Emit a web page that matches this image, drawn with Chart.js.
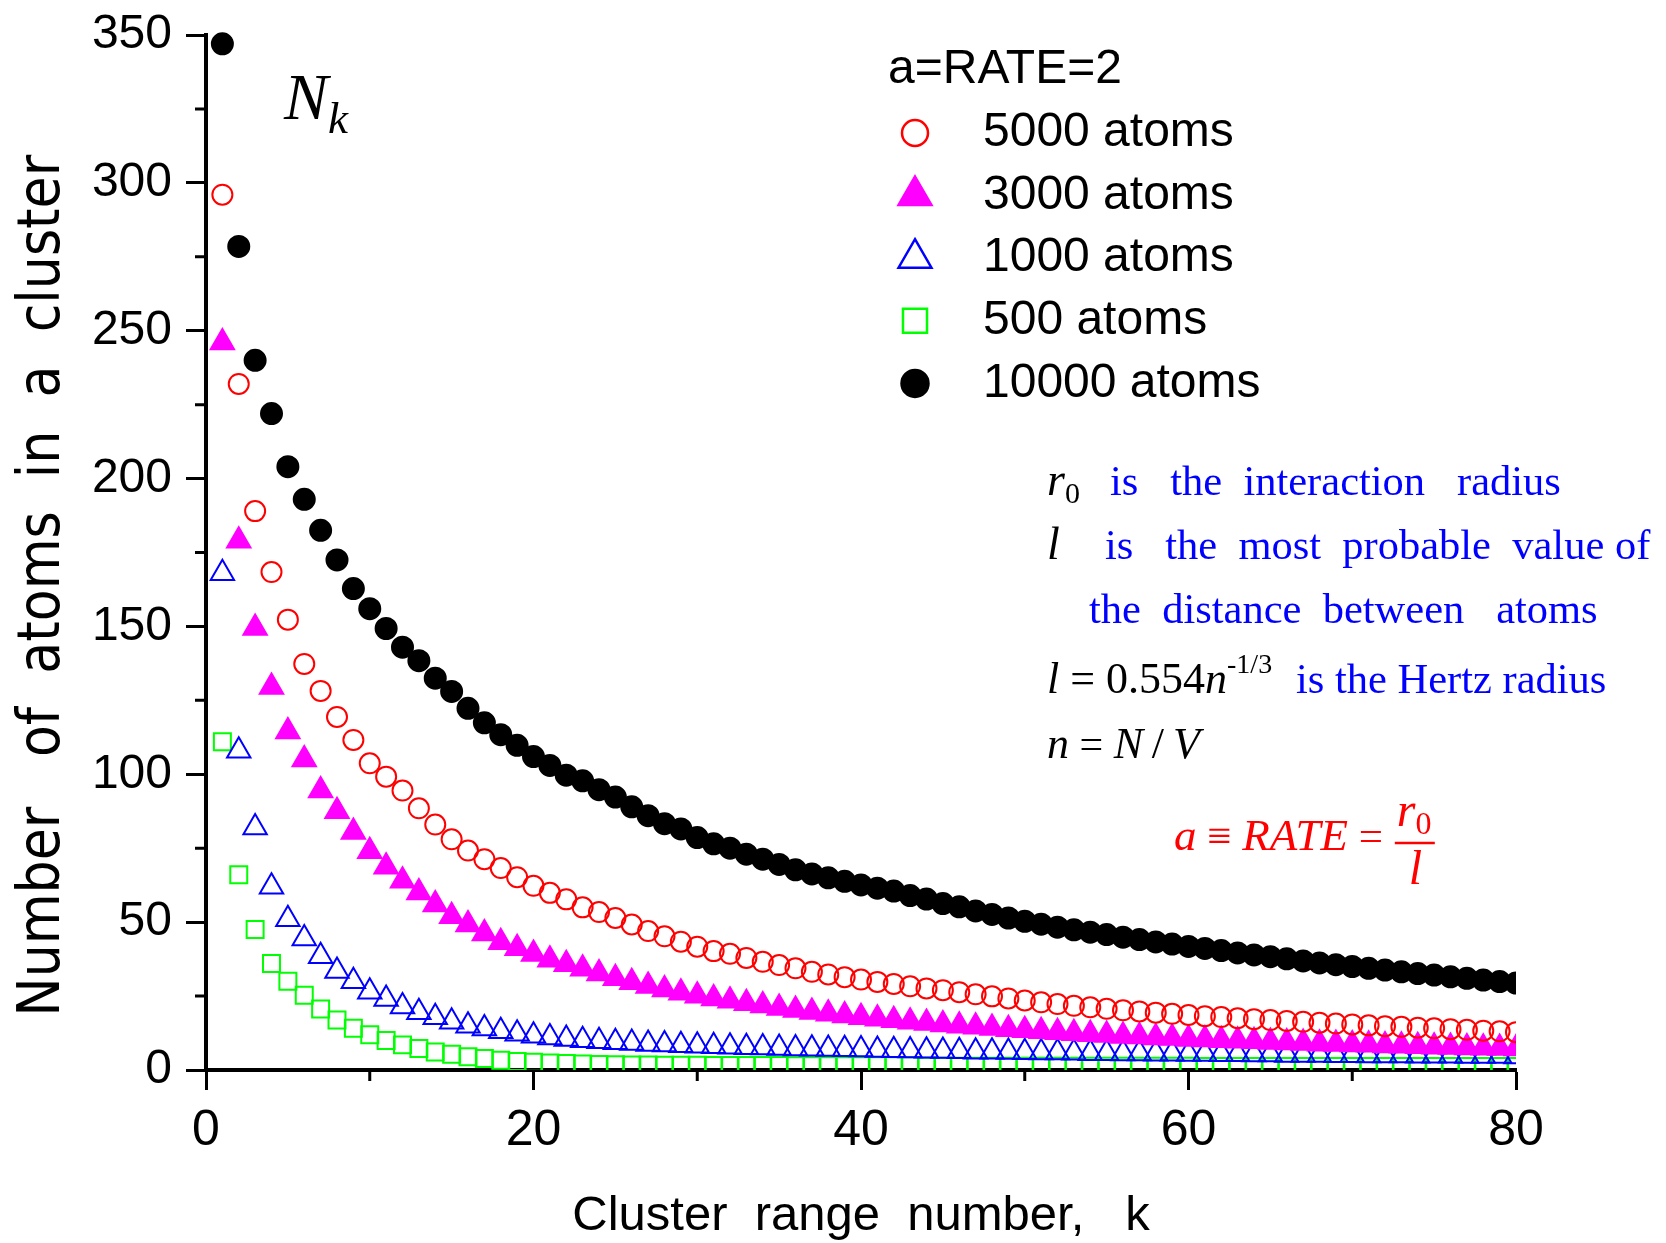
<!DOCTYPE html>
<html>
<head>
<meta charset="utf-8">
<title>Number of atoms in a cluster</title>
<script src="https://cdn.jsdelivr.net/npm/chart.js@4.4.1/dist/chart.umd.min.js"></script>
<style>
  body { margin: 0; background: #fff; }
  canvas { display: block; }
</style>
</head>
<body>
<canvas id="chart-area" width="1666" height="1243"></canvas>
<script>
'use strict';

// cluster range number k
const ks = Array.from({length: 80}, (_, i) => i + 1);

// atoms in the k-th cluster (a = RATE = 2)
const n5000 = [
  296, 232, 189, 168.4, 152.3, 137.3, 128.2, 119.4, 111.6, 103.7,
  99.2, 94.5, 88.5, 83, 78, 74.2, 71.3, 68.3, 65.2, 62.3,
  59.9, 57.7, 55, 53.4, 51.4, 49.2, 47, 45.2, 43.4, 41.7,
  40.2, 39.3, 37.9, 36.6, 35.5, 34.4, 33.2, 32.3, 31.4, 30.6,
  29.8, 29.1, 28.3, 27.6, 27, 26.3, 25.6, 24.9, 24.2, 23.5,
  22.9, 22.3, 21.7, 21.2, 20.7, 20.2, 19.8, 19.4, 19, 18.6,
  18.2, 17.9, 17.5, 17.2, 16.9, 16.6, 16.3, 16, 15.7, 15.4,
  15.1, 14.8, 14.6, 14.3, 14.1, 13.8, 13.6, 13.3, 13.1, 12.8
];
const n3000 = [
  246, 179, 149.5, 129.5, 114.5, 105, 94.5, 87.5, 80.5, 74,
  68.7, 64, 60, 56, 52, 49.2, 46.2, 43.2, 41.2, 39.2,
  37.3, 35.8, 34.2, 32.6, 31, 29.7, 28.4, 27.2, 26.1, 25.1,
  24.2, 23.4, 22.6, 21.8, 21, 20.3, 19.6, 19, 18.4, 17.8,
  17.3, 16.8, 16.3, 15.9, 15.4, 15, 14.6, 14.2, 13.8, 13.4,
  13.1, 12.8, 12.4, 12.1, 11.8, 11.5, 11.3, 11, 10.8, 10.5,
  10.3, 10.1, 9.9, 9.7, 9.5, 9.3, 9.1, 8.9, 8.8, 8.6,
  8.5, 8.3, 8.2, 8, 7.9, 7.8, 7.6, 7.5, 7.4, 7.3
];
const n1000 = [
  168, 108, 82, 62, 51, 44.5, 38.5, 33.5, 30, 26.5,
  24, 21.5, 19.5, 17.8, 16.3, 15, 14, 13.1, 12.3, 11.6,
  11, 10.5, 10.1, 9.7, 9.4, 9.1, 8.8, 8.6, 8.4, 8.2,
  8, 7.9, 7.7, 7.6, 7.4, 7.3, 7.2, 7.1, 7, 6.9,
  6.8, 6.7, 6.6, 6.5, 6.4, 6.3, 6.2, 6.2, 6.1, 6,
  5.9, 5.9, 5.8, 5.7, 5.7, 5.6, 5.6, 5.5, 5.5, 5.4,
  5.4, 5.3, 5.3, 5.2, 5.2, 5.1, 5.1, 5.1, 5, 5,
  4.9, 4.9, 4.9, 4.8, 4.8, 4.8, 4.7, 4.7, 4.7, 4.6
];
const n500 = [
  111, 66, 47.5, 36, 30, 25.3, 20.6, 16.9, 14.1, 11.9,
  10, 8.5, 7.3, 6.1, 5.3, 4.5, 3.9, 3.3, 2.9, 2.6,
  2.4, 2.2, 2, 1.9, 1.8, 1.7, 1.7, 1.6, 1.6, 1.6,
  1.5, 1.5, 1.5, 1.5, 1.5, 1.4, 1.4, 1.4, 1.4, 1.4,
  1.4, 1.4, 1.4, 1.3, 1.3, 1.3, 1.3, 1.3, 1.3, 1.3,
  1.3, 1.3, 1.3, 1.3, 1.3, 1.3, 1.3, 1.3, 1.3, 1.3,
  1.2, 1.2, 1.2, 1.2, 1.2, 1.2, 1.2, 1.2, 1.2, 1.2,
  1.2, 1.2, 1.2, 1.2, 1.2, 1.2, 1.2, 1.2, 1.2, 1.2
];
const n10000 = [
  347, 278.5, 240, 222, 204, 193, 182.5, 172.5, 162.8, 156,
  149.3, 143, 138.4, 132.5, 128, 122.3, 117.4, 113.4, 109.8, 106,
  103, 99.7, 97.8, 94.8, 92.3, 89, 86, 83.3, 81.5, 78.6,
  76.5, 75, 73, 71.3, 69.5, 67.7, 66.3, 65, 63.8, 62.6,
  61.5, 60.5, 59, 57.8, 56.3, 55.2, 53.8, 52.6, 51.4, 50.3,
  49.3, 48.3, 47.4, 46.6, 45.8, 44.9, 44.1, 43.3, 42.6, 41.8,
  41.1, 40.4, 39.6, 38.9, 38.3, 37.6, 36.9, 36.2, 35.6, 35,
  34.4, 33.8, 33.2, 32.6, 32.1, 31.5, 31, 30.4, 29.9, 29.4
];

const seriesLabels = ['5000 atoms', '3000 atoms', '1000 atoms', '500 atoms', '10000 atoms'];
const xTicks = [0, 20, 40, 60, 80];
const yTicks = [0, 50, 100, 150, 200, 250, 300, 350];

const sans = '"Liberation Sans", Arial, sans-serif';
const narrow = '"Liberation Sans Narrow", "Arial Narrow", "DejaVu Sans Condensed", sans-serif';
const serif = '"Liberation Serif", "Times New Roman", serif';
const none = 'rgba(0,0,0,0)';

var pts = (vals) => vals.map((v, i) => ({x: ks[i], y: v}));

var mk = (label, vals, style, radius, border, fill, legendRadius) => ({
  label: label,
  data: pts(vals),
  showLine: false,
  pointStyle: style,
  pointRadius: radius,
  pointHoverRadius: radius,
  pointBorderWidth: 2,
  borderColor: border,
  backgroundColor: fill,
  legendRadius: legendRadius,
  clip: {left: 30, top: 30, right: 0, bottom: 0}
});

var datasets = [
  mk(seriesLabels[0], n5000, 'circle', 10, '#ff0000', none, 13),
  mk(seriesLabels[1], n3000, 'triangle', 13.5, '#ff00ff', '#ff00ff', 19),
  mk(seriesLabels[2], n1000, 'triangle', 13.5, '#0000ff', none, 19),
  mk(seriesLabels[3], n500, 'rect', 12, '#00ff00', none, 17),
  mk(seriesLabels[4], n10000, 'circle', 10.5, '#000000', '#000000', 13.5)
];

// short ticks between the labelled ones
var minorTicks = {
  id: 'minorTicks',
  afterDraw(chart) {
    const ctx = chart.ctx, x = chart.scales.x, y = chart.scales.y;
    ctx.save();
    ctx.strokeStyle = '#000';
    ctx.lineWidth = 3;
    ctx.beginPath();
    for (let v = 10; v < 80; v += 20) {
      const px = x.getPixelForValue(v);
      ctx.moveTo(px, chart.chartArea.bottom);
      ctx.lineTo(px, chart.chartArea.bottom + 11);
    }
    for (let v = 25; v < 350; v += 50) {
      const py = y.getPixelForValue(v);
      ctx.moveTo(chart.chartArea.left, py);
      ctx.lineTo(chart.chartArea.left - 11, py);
    }
    ctx.stroke();
    ctx.restore();
  }
};

// legend box in the upper right, drawn from the datasets
var sideLegend = {
  id: 'sideLegend',
  afterDraw(chart) {
    const ctx = chart.ctx;
    ctx.save();
    ctx.textBaseline = 'middle';
    ctx.textAlign = 'left';
    ctx.fillStyle = '#000';
    ctx.font = '48px ' + sans;
    ctx.fillText('a=RATE=2', 888, 70);
    chart.data.datasets.forEach((ds, i) => {
      const cy = 133 + i * 62.6;
      ctx.fillStyle = ds.backgroundColor;
      ctx.strokeStyle = ds.borderColor;
      ctx.lineWidth = 2.5;
      Chart.helpers.drawPoint(ctx, {pointStyle: ds.pointStyle, radius: ds.legendRadius, rotation: 0, borderWidth: 2.5}, 915, cy);
      ctx.fillStyle = '#000';
      ctx.font = '48px ' + sans;
      ctx.fillText(ds.label, 983, cy);
    });
    ctx.restore();
  }
};

var runs = (ctx, x, y, parts) => {
  for (const p of parts) {
    ctx.font = p[1];
    ctx.fillStyle = p[2];
    ctx.fillText(p[0], x, y + (p[3] || 0));
    x += ctx.measureText(p[0]).width;
  }
  return x;
};

// notes and formulas
var notes = {
  id: 'notes',
  afterDraw(chart) {
    const ctx = chart.ctx;
    const blk = '#000', blu = '#0000ff', red = '#ff0000';
    const it = (s) => 'italic ' + s + 'px ' + serif;
    const rm = (s) => s + 'px ' + serif;
    ctx.save();
    ctx.textBaseline = 'alphabetic';
    ctx.textAlign = 'left';

    runs(ctx, 284, 119, [['N', it(66), blk], ['k', it(45), blk, 14]]);

    runs(ctx, 1047, 495, [['r', it(46), blk], ['0', rm(30), blk, 8]]);
    runs(ctx, 1110, 495, [['is   the  interaction   radius', rm(42.5), blu]]);

    runs(ctx, 1047, 559, [['l', it(46), blk]]);
    runs(ctx, 1105, 559, [['is   the  most  probable  value of', rm(42.5), blu]]);

    runs(ctx, 1089, 623, [['the  distance  between   atoms', rm(42.5), blu]]);

    runs(ctx, 1047, 693, [['l', it(44), blk], [' = 0.554', rm(44), blk], ['n', it(44), blk], ['-1/3', rm(28), blk, -20]]);
    runs(ctx, 1296, 693, [['is the Hertz radius', rm(42.5), blu]]);

    runs(ctx, 1047, 758, [['n', it(44), blk], [' = ', rm(42), blk], ['N', it(44), blk], ['\u2009/\u2009', rm(44), blk], ['V', it(44), blk]]);

    const fx = runs(ctx, 1174, 850, [['a', it(45), red], [' \u2261 ', rm(43), red], ['RATE', it(45), red], [' = ', rm(43), red]]) + 1;
    runs(ctx, fx + 2, 826, [['r', it(48), red], ['0', rm(32), red, 8]]);
    ctx.strokeStyle = red;
    ctx.lineWidth = 2.5;
    ctx.beginPath();
    ctx.moveTo(fx, 843);
    ctx.lineTo(fx + 40, 843);
    ctx.stroke();
    runs(ctx, fx + 14, 884, [['l', it(48), red]]);
    ctx.restore();
  }
};

var config = {
  type: 'scatter',
  data: {datasets: datasets},
  options: {
    responsive: false,
    animation: false,
    events: [],
    layout: {padding: {left: 0, top: 35, right: 150, bottom: 0}},
    plugins: {
      legend: {display: false},
      tooltip: {enabled: false}
    },
    scales: {
      x: {
        type: 'linear',
        min: 0,
        max: 80,
        afterFit: (s) => { s.height = 173; },
        afterBuildTicks: (s) => { s.ticks = xTicks.map(v => ({value: v})); },
        border: {display: true, color: '#000', width: 4},
        grid: {drawOnChartArea: false, drawTicks: true, tickLength: 20, tickWidth: 3, tickColor: '#000'},
        ticks: {color: '#000', padding: 11, maxRotation: 0, font: {family: sans, size: 50}},
        title: {display: true, text: 'Cluster  range  number,   k', color: '#000',
                font: {family: sans, size: 49, lineHeight: 1.1}, padding: {top: 0, bottom: 0}}
      },
      y: {
        type: 'linear',
        min: 0,
        max: 350,
        afterFit: (s) => { s.width = 206; s.paddingTop = 0; },
        afterBuildTicks: (s) => { s.ticks = yTicks.map(v => ({value: v})); },
        border: {display: true, color: '#000', width: 4},
        grid: {drawOnChartArea: false, drawTicks: true, tickLength: 20, tickWidth: 3, tickColor: '#000'},
        ticks: {color: '#000', padding: 14, font: {family: sans, size: 48}},
        title: {display: true, text: 'Number   of  atoms  in  a  cluster    ', color: '#000',
                font: {family: narrow, size: 58}, padding: {top: 9, bottom: 0}}
      }
    }
  },
  plugins: [minorTicks, sideLegend, notes]
};

window.onload = function() {
  var ctx = document.getElementById('chart-area').getContext('2d');
  window.myScatter = new Chart(ctx, config);
};
</script>
</body>
</html>
